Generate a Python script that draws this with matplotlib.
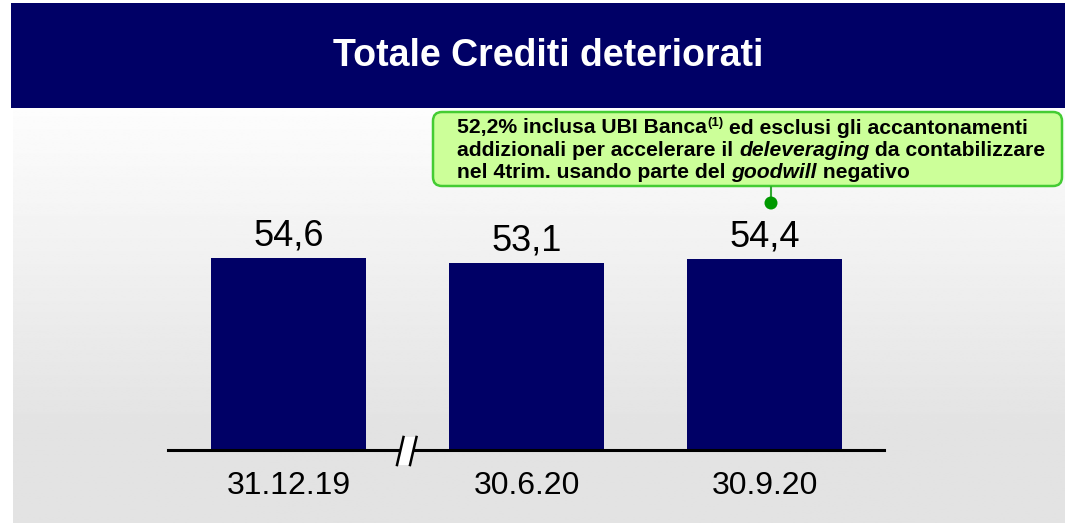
import matplotlib.pyplot as plt
import numpy as np
from matplotlib.patches import Rectangle, FancyBboxPatch, Polygon, Circle

plt.rcParams['font.family'] = ['Liberation Sans', 'DejaVu Sans']

title = "Totale Crediti deteriorati"
periods = ["31.12.19", "30.6.20", "30.9.20"]
values = [54.6, 53.1, 54.4]
value_labels = ["54,6", "53,1", "54,4"]

# callout text, one list of (text, style) runs per line
note_lines = [
    [("52,2% inclusa UBI Banca", "normal"), ("(1)", "sup"), (" ed esclusi gli accantonamenti", "normal")],
    [("addizionali per accelerare il ", "normal"), ("deleveraging", "italic"), (" da contabilizzare", "normal")],
    [("nel 4trim. usando parte del ", "normal"), ("goodwill", "italic"), (" negativo", "normal")],
]

navy = "#000066"
W, H = 1065, 523

fig = plt.figure(figsize=(W / 100, H / 100), dpi=100)
fig.patch.set_facecolor("white")

# background layer in pixel coordinates
bg = fig.add_axes([0, 0, 1, 1])
bg.set_xlim(0, W)
bg.set_ylim(H, 0)
bg.axis("off")

grad = np.linspace(0.99, 0.86, 256)
grad = np.clip(np.concatenate([grad[:200], np.full(56, grad[199])]), 0, 1)
bg.imshow(np.repeat(grad[:, None], 2, axis=1), cmap="gray", vmin=0, vmax=1,
          extent=(13, W, H, 110), aspect="auto", interpolation="bilinear", zorder=0)
bg.add_patch(Rectangle((11, 3), W - 11, 105, facecolor=navy, edgecolor="none", zorder=1))
bg.text(548, 56, title, color="white", fontsize=27, fontweight="bold",
        ha="center", va="center", zorder=2)

# bar chart
ax = fig.add_axes([168 / W, (H - 450) / H, 716 / W, 351.7 / H])
ax.patch.set_alpha(0)
x = np.arange(len(values))
bars = ax.bar(x, values, width=0.651, color=navy, zorder=2)
ax.set_xlim(-0.506, 2.502)
ax.set_ylim(0, 100)
for rect, lab in zip(bars, value_labels):
    ax.annotate(lab, (rect.get_x() + rect.get_width() / 2, rect.get_height()),
                xytext=(0, 9), textcoords="offset points",
                ha="center", va="baseline", fontsize=26, color="black")
ax.set_xticks(x)
ax.set_xticklabels(periods, fontsize=23)
ax.tick_params(axis="x", length=0, pad=15)
ax.set_yticks([])
for s in ["top", "left", "right"]:
    ax.spines[s].set_visible(False)
ax.spines["bottom"].set_linewidth(2.2)
ax.spines["bottom"].set_color("black")

# overlay: axis break and callout
ov = fig.add_axes([0, 0, 1, 1])
ov.set_xlim(0, W)
ov.set_ylim(H, 0)
ov.axis("off")
ov.patch.set_alpha(0)

ov.add_patch(Polygon([(397, 465), (403.5, 437), (416.5, 437), (410, 465)],
                     closed=True, facecolor="white", edgecolor="none", zorder=3))
ov.plot([397, 403.5], [465, 437], color="black", lw=1.8, zorder=4)
ov.plot([410, 416.5], [465, 437], color="black", lw=1.8, zorder=4)

ov.add_patch(FancyBboxPatch((440, 119), 615, 60,
                            boxstyle="round,pad=7,rounding_size=9",
                            facecolor="#ccff99", edgecolor="#44cc33", lw=1.8, zorder=3))
ov.plot([771, 771], [187, 199], color="#33aa33", lw=1.5, zorder=3)
ov.add_patch(Circle((771, 203), 6.5, facecolor="#009900", edgecolor="none", zorder=4))

fig.canvas.draw()
renderer = fig.canvas.get_renderer()
line_y = [128, 150, 172]
for ly, runs in zip(line_y, note_lines):
    cx = 457
    for txt, style in runs:
        kw = dict(fontsize=15.2, fontweight="bold", color="black", va="center", ha="left", zorder=5)
        y = ly
        if style == "italic":
            kw["fontstyle"] = "italic"
        elif style == "sup":
            kw["fontsize"] = 9.5
            y = ly - 5
        t = ov.text(cx, y, txt, **kw)
        bb = t.get_window_extent(renderer)
        cx += bb.width

fig.savefig("out.png", dpi=100)
